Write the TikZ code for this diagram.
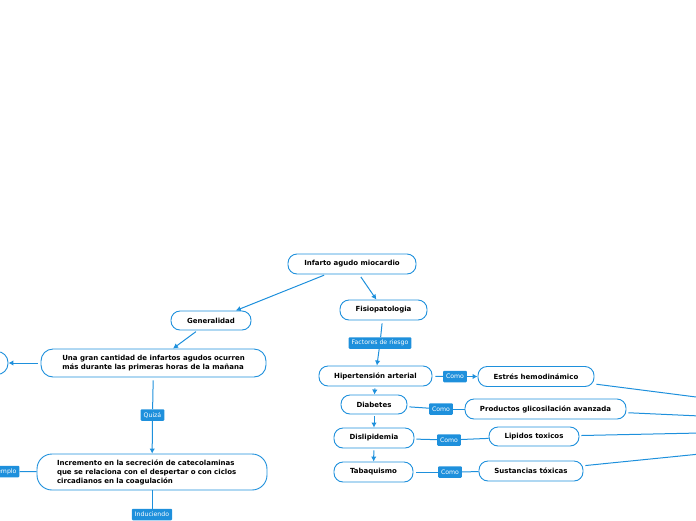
\documentclass[tikz,border=0pt]{standalone}
\usepackage{fontspec}
\setmainfont{DejaVu Sans}
\usetikzlibrary{arrows.meta}
\definecolor{mapblue}{RGB}{30,144,220}

\begin{document}
\begin{tikzpicture}[x=1pt,y=-1pt,
	topic/.style={draw=mapblue, line width=0.9pt, rounded corners=9pt, fill=white,
		minimum height=20pt, inner sep=0pt, font=\fontsize{7}{9}\selectfont\bfseries},
	tag/.style={fill=mapblue, text=white, rounded corners=1pt, minimum height=11.5pt,
		inner xsep=3pt, inner ysep=0pt, font=\fontsize{6.2}{7}\selectfont},
	link/.style={draw=mapblue, line width=1pt},
	arr/.style={link, -{Latex[length=5pt,width=5.5pt]}}]
	\useasboundingbox (0,0) rectangle (696,520);
	
	\node[topic, minimum width=128pt] (IAM) at (352,264) {Infarto agudo miocardio};
	\node[topic, minimum width=87pt] (fis) at (383.5,310) {Fisiopatologia};
	\node[topic, minimum width=80pt, minimum height=19pt] (gen) at (211,320.5) {Generalidad};
	
	\node[topic, minimum width=225pt, minimum height=28pt, rounded corners=12pt, align=left] (gran) at (153.5,363)
		{Una gran cantidad de infartos agudos ocurren\\más durante las primeras horas de la mañana};
	\node[topic, minimum width=96pt, minimum height=23pt, rounded corners=11pt] (izq) at (-40,363) {};
	\node[tag] (quiza) at (152.5,415) {Quizá};
	\node[topic, minimum width=230pt, minimum height=36pt, rounded corners=15pt, align=left,
		text width=190pt] (incr) at (152,472)
		{Incremento en la secreción de catecolaminas\\que se relaciona con el despertar o con ciclos\\circadianos en la coagulación};
	\node[tag] (ejem) at (4,471.5) {Ejemplo};
	\node[tag] (induc) at (152,514.5) {Induciendo};
	
	\node[tag] (fact) at (380,343) {Factores de riesgo};
	\node[topic, minimum width=113pt] (hta) at (375.5,376) {Hipertensión arterial};
	\node[topic, minimum width=66pt, minimum height=19pt] (diab) at (374,404.5) {Diabetes};
	\node[topic, minimum width=80pt] (disl) at (374,438) {Dislipidemia};
	\node[topic, minimum width=79pt] (taba) at (373.5,472) {Tabaquismo};
	
	\node[tag] (como1) at (455,376.5) {Como};
	\node[tag] (como2) at (441,409) {Como};
	\node[tag] (como3) at (449,440) {Como};
	\node[tag] (como4) at (450,472) {Como};
	
	\node[topic, minimum width=116pt] (estres) at (536,376.5) {Estrés hemodinámico};
	\node[topic, minimum width=161pt] (prod) at (545.5,409) {Productos glicosilación avanzada};
	\node[topic, minimum width=90pt, minimum height=19pt] (lip) at (534,436.5) {Lipidos toxicos};
	\node[topic, minimum width=104pt] (sust) at (531,471) {Sustancias tóxicas};
	
	% ends that run off the right edge
	\coordinate (out1) at (700,397.5);
	\coordinate (out2) at (700,416);
	\coordinate (out3) at (700,433);
	\coordinate (out4) at (700,454);
	
	\draw[arr, shorten <=2pt] (IAM) -- (gen);
	\draw[arr, shorten <=3pt] (IAM) -- (fis);
	\draw[arr, shorten <=2pt] (gen) -- (gran);
	\draw[arr, shorten <=3pt] (gran) -- (izq);
	\draw[link, shorten <=3pt] (gran) -- (quiza);
	\draw[arr] (quiza) -- (incr);
	\draw[link] (ejem) -- (incr);
	\draw[link] (incr) -- (induc);
	
	\draw[link, shorten <=3pt] (fis) -- (fact);
	\draw[arr] (fact) -- (hta);
	\draw[arr, shorten <=2pt] (hta) -- (diab);
	\draw[arr, shorten <=2pt] (diab) -- (disl);
	\draw[arr, shorten <=2pt] (disl) -- (taba);
	
	\draw[link, shorten <=3pt] (hta) -- (como1);
	\draw[arr] (como1) -- (estres);
	\draw[link, shorten <=2pt] (diab) -- (como2);
	\draw[link] (como2) -- (prod);
	\draw[link, shorten <=2pt] (disl) -- (como3);
	\draw[link] (como3) -- (lip);
	\draw[link, shorten <=3pt] (taba) -- (como4);
	\draw[link] (como4) -- (sust);
	
	\draw[link, shorten <=2pt] (estres) -- (out1);
	\draw[link, shorten <=2pt] (prod) -- (out2);
	\draw[link, shorten <=2pt] (lip) -- (out3);
	\draw[link, shorten <=2pt] (sust) -- (out4);
	
\end{tikzpicture}
\end{document}
